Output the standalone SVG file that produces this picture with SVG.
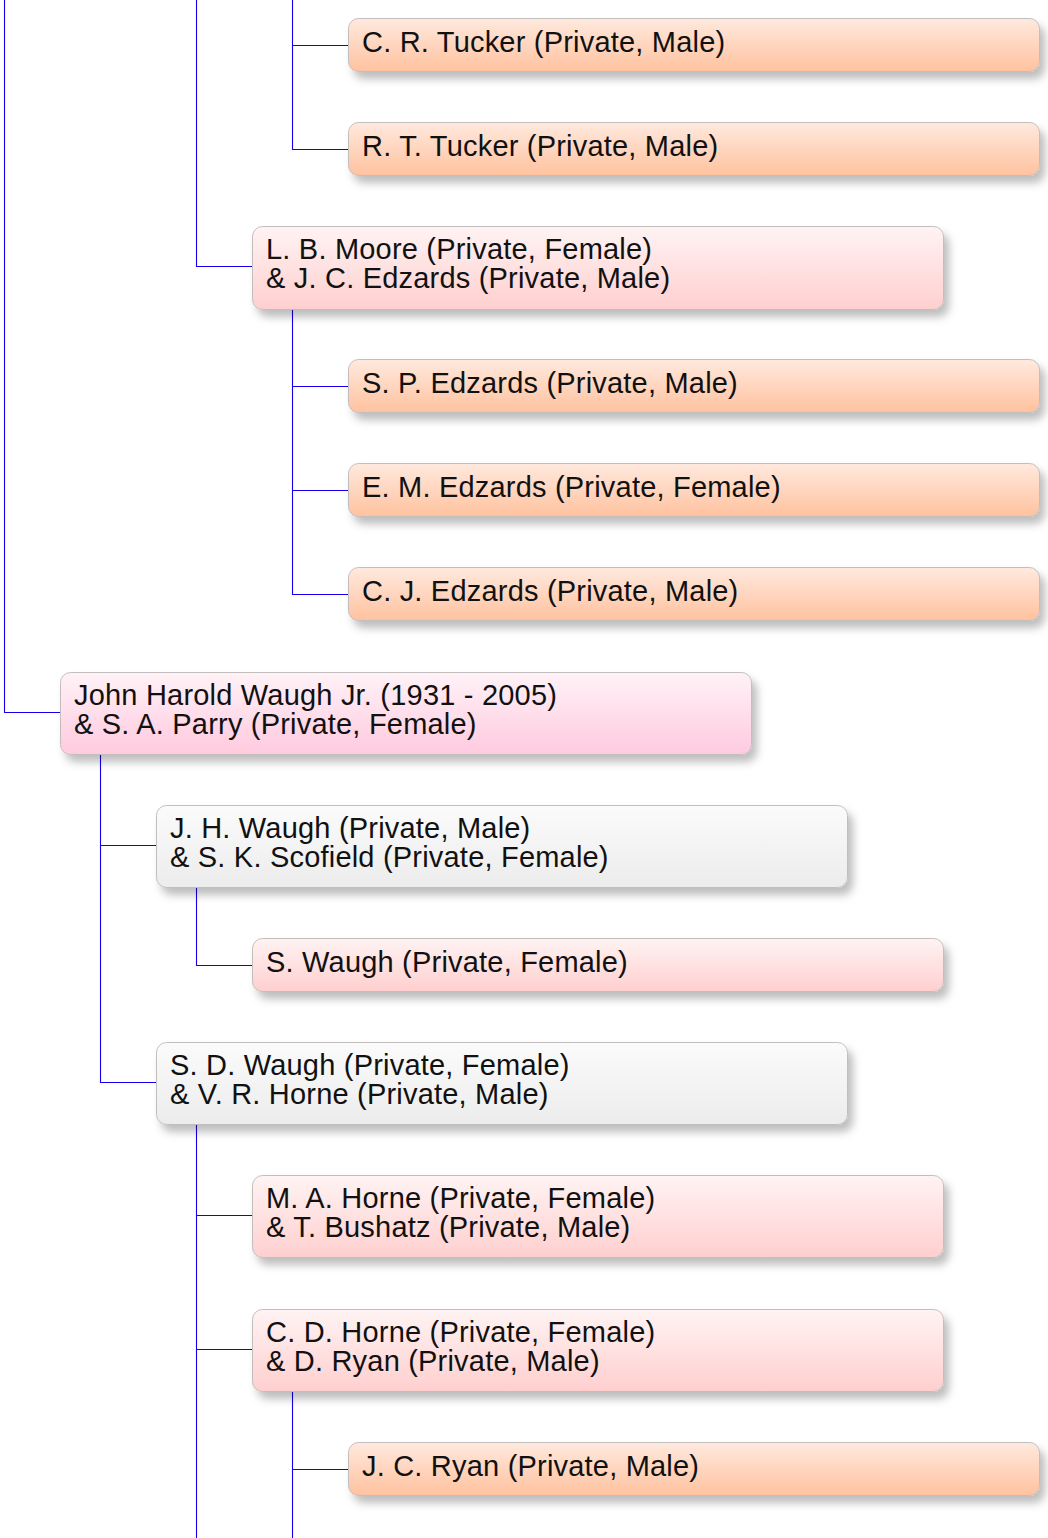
<svg xmlns="http://www.w3.org/2000/svg" width="1048" height="1538" viewBox="0 0 1048 1538">
<style>
.box{stroke:#c2bebe;stroke-width:1;filter:url(#sh)}
.t{font-family:"Liberation Sans",Arial,Helvetica,sans-serif;font-size:29px;letter-spacing:0.2px;fill:#111}
.c{stroke:#1400ee;stroke-width:1.1;fill:none}
.m{fill:url(#gM)}
.f{fill:url(#gF)}
.r{fill:url(#gR)}
.g{fill:url(#gG)}
</style>
<defs>
<filter id="sh" x="-5%" y="-30%" width="115%" height="170%">
<feDropShadow dx="5" dy="7" stdDeviation="4.5" flood-color="#000" flood-opacity="0.26"/>
</filter>
<linearGradient id="gM" x1="0" y1="0" x2="0" y2="1"><stop offset="0" stop-color="#ffe9de"/><stop offset="1" stop-color="#ffc29f"/></linearGradient>
<linearGradient id="gF" x1="0" y1="0" x2="0" y2="1"><stop offset="0" stop-color="#fff3f3"/><stop offset="1" stop-color="#ffcfcf"/></linearGradient>
<linearGradient id="gR" x1="0" y1="0" x2="0" y2="1"><stop offset="0" stop-color="#fff2f7"/><stop offset="1" stop-color="#ffcadf"/></linearGradient>
<linearGradient id="gG" x1="0" y1="0" x2="0" y2="1"><stop offset="0" stop-color="#fbfbfb"/><stop offset="1" stop-color="#ececec"/></linearGradient>
</defs>
<g id="connectors">
<path class="c" d="M4.5 0V712.5H60.5"/>
<path class="c" d="M196.5 0V266.5H252.5"/>
<path class="c" d="M292.5 0V149.5H348.5M292.5 45.5H348.5"/>
<path class="c" d="M292.5 309.5V594.5H348.5M292.5 386.5H348.5M292.5 490.5H348.5"/>
<path class="c" d="M100.5 754.5V1082.5H156.5M100.5 845.5H156.5"/>
<path class="c" d="M196.5 887.5V965.5H252.5"/>
<path class="c" d="M196.5 1124.5V1538M196.5 1215.5H252.5M196.5 1349.5H252.5"/>
<path class="c" d="M292.5 1391.5V1538M292.5 1469.5H348.5"/>
</g>
<g id="n1"><rect class="box m" x="348.5" y="18.5" width="691" height="53" rx="10"/><text class="t" x="362" y="51.5">C. R. Tucker (Private, Male)</text></g>
<g id="n2"><rect class="box m" x="348.5" y="122.5" width="691" height="53" rx="10"/><text class="t" x="362" y="155.5">R. T. Tucker (Private, Male)</text></g>
<g id="n3"><rect class="box f" x="252.5" y="226.5" width="691" height="83" rx="10"/><text class="t"><tspan x="266" y="259">L. B. Moore (Private, Female)</tspan><tspan x="266" y="288">&amp; J. C. Edzards (Private, Male)</tspan></text></g>
<g id="n4"><rect class="box m" x="348.5" y="359.5" width="691" height="53" rx="10"/><text class="t" x="362" y="392.5">S. P. Edzards (Private, Male)</text></g>
<g id="n5"><rect class="box m" x="348.5" y="463.5" width="691" height="53" rx="10"/><text class="t" x="362" y="496.5">E. M. Edzards (Private, Female)</text></g>
<g id="n6"><rect class="box m" x="348.5" y="567.5" width="691" height="53" rx="10"/><text class="t" x="362" y="600.5">C. J. Edzards (Private, Male)</text></g>
<g id="n7"><rect class="box r" x="60.5" y="672.5" width="691" height="82" rx="10"/><text class="t"><tspan x="74" y="704.5">John Harold Waugh Jr. (1931 - 2005)</tspan><tspan x="74" y="733.5">&amp; S. A. Parry (Private, Female)</tspan></text></g>
<g id="n8"><rect class="box g" x="156.5" y="805.5" width="691" height="82" rx="10"/><text class="t"><tspan x="170" y="837.5">J. H. Waugh (Private, Male)</tspan><tspan x="170" y="866.5">&amp; S. K. Scofield (Private, Female)</tspan></text></g>
<g id="n9"><rect class="box f" x="252.5" y="938.5" width="691" height="53" rx="10"/><text class="t" x="266" y="971.5">S. Waugh (Private, Female)</text></g>
<g id="n10"><rect class="box g" x="156.5" y="1042.5" width="691" height="82" rx="10"/><text class="t"><tspan x="170" y="1074.5">S. D. Waugh (Private, Female)</tspan><tspan x="170" y="1103.5">&amp; V. R. Horne (Private, Male)</tspan></text></g>
<g id="n11"><rect class="box f" x="252.5" y="1175.5" width="691" height="82" rx="10"/><text class="t"><tspan x="266" y="1207.5">M. A. Horne (Private, Female)</tspan><tspan x="266" y="1236.5">&amp; T. Bushatz (Private, Male)</tspan></text></g>
<g id="n12"><rect class="box f" x="252.5" y="1309.5" width="691" height="82" rx="10"/><text class="t"><tspan x="266" y="1341.5">C. D. Horne (Private, Female)</tspan><tspan x="266" y="1370.5">&amp; D. Ryan (Private, Male)</tspan></text></g>
<g id="n13"><rect class="box m" x="348.5" y="1442.5" width="691" height="53" rx="10"/><text class="t" x="362" y="1475.5">J. C. Ryan (Private, Male)</text></g>
</svg>
